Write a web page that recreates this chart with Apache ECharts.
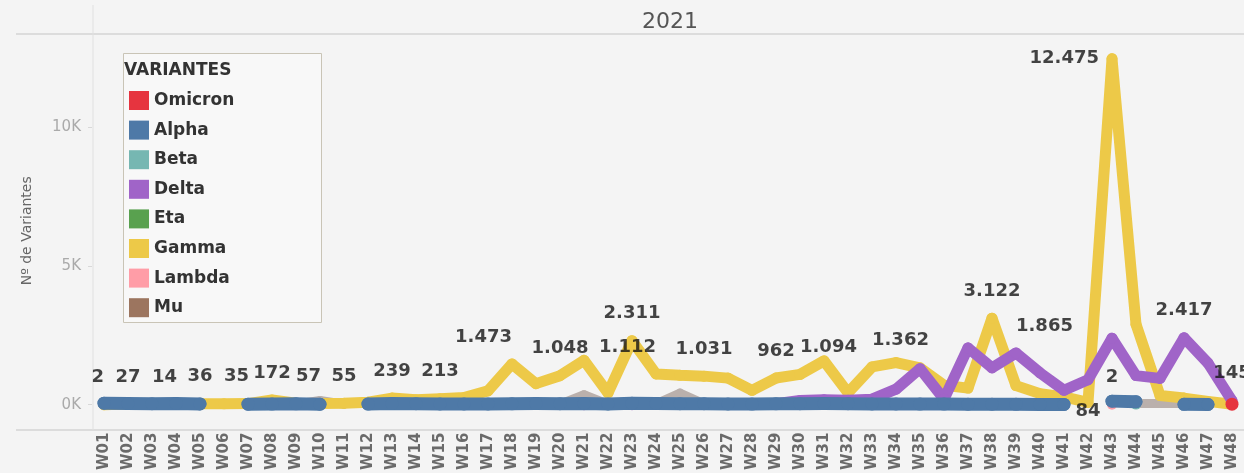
<!DOCTYPE html>
<html><head><meta charset="utf-8">
<script src="https://cdn.jsdelivr.net/npm/echarts@6/dist/echarts.min.js"></script>
<style>html,body{margin:0;padding:0;background:#f4f4f4}#c{width:1244px;height:473px}</style>
</head><body><div id="c"></div><script>
// ---- data ----
const weeks = ['W01','W02','W03','W04','W05','W06','W07','W08','W09','W10','W11','W12','W13','W14','W15','W16','W17','W18','W19','W20','W21','W22','W23','W24','W25','W26','W27','W28','W29','W30','W31','W32','W33','W34','W35','W36','W37','W38','W39','W40','W41','W42','W43','W44','W45','W46','W47','W48'];
const yTicks = [0, 5000, 10000];
const variantNames = ['Omicron','Alpha','Beta','Delta','Eta','Gamma','Lambda','Mu'];
const gamma   = [2,27,14,20,36,35,40,172,57,45,55,90,239,180,213,260,500,1473,760,1048,1600,420,2311,1112,1060,1031,960,520,962,1094,1580,430,1362,1520,1330,700,600,3122,690,400,280,84,12475,2900,330,240,120,20];
const delta   = [null,null,null,null,null,null,null,null,null,null,null,null,null,null,null,null,null,null,null,null,2,null,3,null,null,null,null,10,40,150,180,160,200,560,1300,200,2050,1330,1865,1150,520,900,2400,1050,950,2417,1500,145];
const alpha   = [55,40,35,48,30,null,20,25,33,18,null,22,40,35,28,30,26,34,41,38,45,30,52,44,38,35,29,24,31,36,42,39,30,27,25,22,18,20,15,12,10,null,130,110,null,14,9,null];
const beta    = [null,null,null,null,null,null,null,null,null,null,null,null,1,null,null,null,null,null,null,null,null,null,null,null,null,null,null,null,null,null,null,null,null,null,2,null,null,null,null,null,null,null,null,4,null,null,null,null];
const eta     = [null,null,null,null,null,null,null,null,null,null,null,null,null,null,1,null,null,null,null,null,null,null,null,null,null,null,null,null,null,null,null,null,null,null,null,null,null,null,null,null,null,null,null,null,null,null,null,null];
const lambda  = [null,null,null,null,null,null,null,null,null,null,null,null,null,null,null,null,null,1,null,null,null,null,null,null,null,null,null,null,null,null,null,null,null,null,null,null,null,null,null,null,null,null,2,null,null,null,null,null];
const mu      = [null,null,null,null,null,null,null,null,null,null,null,null,null,null,null,null,null,null,null,null,null,null,null,null,null,null,2,null,null,null,null,null,null,null,null,null,null,3,null,null,null,null,null,null,null,null,null,null];
const omicron = [null,null,null,null,null,null,null,null,null,null,null,null,null,null,null,null,null,null,null,null,null,null,null,null,null,null,null,null,null,null,null,null,null,null,null,null,null,null,null,null,null,null,null,null,null,null,null,20];
const otras   = [null,null,null,null,null,null,null,null,20,150,20,null,null,null,null,null,null,null,null,20,360,20,null,30,420,30,null,null,null,null,null,null,null,null,null,null,null,null,null,null,null,null,null,40,40,40,null,null];
// labelled points: [variant, week]
const labelPoints = [
  ['Gamma','W01'],['Gamma','W02'],['Gamma','W03'],['Gamma','W05'],['Gamma','W06'],['Gamma','W08'],
  ['Gamma','W09'],['Gamma','W11'],['Gamma','W13'],['Gamma','W15'],['Gamma','W18'],['Gamma','W20'],
  ['Gamma','W23'],['Gamma','W24'],['Gamma','W26'],['Gamma','W29'],['Gamma','W30'],['Gamma','W33'],
  ['Gamma','W38'],['Delta','W39'],['Gamma','W42'],['Gamma','W43'],['Lambda','W43'],['Delta','W46'],['Delta','W48']
];

// ---- chart ----
const FONT = 'DejaVu Sans';
const colors = {Omicron:'#e6343f', Alpha:'#4e79a7', Beta:'#76b7b2', Delta:'#a064c8', Eta:'#59a14f', Gamma:'#edc948', Lambda:'#ff9da7', Mu:'#9c755f', Otras:'#bab0ac'};
const seriesData = {Omicron:omicron, Alpha:alpha, Beta:beta, Delta:delta, Eta:eta, Gamma:gamma, Lambda:lambda, Mu:mu, Otras:otras};
const widths = {Alpha:13, Gamma:11, Delta:11, Otras:9};
const zOrder = {Otras:1, Mu:2, Eta:2, Beta:2, Lambda:2, Gamma:3, Delta:4, Alpha:5, Omicron:6};
const drawOrder = ['Otras','Mu','Eta','Beta','Lambda','Gamma','Delta','Alpha','Omicron'];

function fmt(v){ return String(v).replace(/\B(?=(\d{3})+(?!\d))/g, '.'); }

const lineSeries = drawOrder.map(name => {
  const w = widths[name] || 10;
  return {
    name, type:'line', data: seriesData[name], z: zOrder[name],
    connectNulls:false, symbol:'circle', showSymbol:true, symbolSize: name==='Omicron'?13:w,
    lineStyle:{width:w, color:colors[name], cap:'round', join:'round'},
    itemStyle:{color:colors[name]}, emphasis:{disabled:true}, animation:false
  };
});

const alignRight = ['Gamma:W01','Gamma:W18','Gamma:W24'];
const alignLeft = ['Gamma:W03','Gamma:W06','Gamma:W09','Gamma:W30','Gamma:W33','Delta:W39'];
const labelData = labelPoints.map(([s, wk]) => {
  const v = seriesData[s][weeks.indexOf(wk)];
  const key = s + ':' + wk;
  let label = {position:'top', distance:13};
  if (alignRight.includes(key)) label.align = 'right';
  if (alignLeft.includes(key)) label.align = 'left';
  if (key === 'Gamma:W43') label = {position:'left', distance:8};
  if (key === 'Gamma:W42') label = {position:'bottom', distance:-5};
  return {value:[wk, v], label};
});

const option = {
  backgroundColor:'#f4f4f4',
  animation:false,
  textStyle:{fontFamily:FONT},
  grid:{left:92, top:34, width:1157, height:396, containLabel:false},
  xAxis:{
    type:'category', data:weeks, boundaryGap:true,
    axisLine:{show:false}, axisTick:{show:false},
    axisLabel:{rotate:90, interval:0, margin:5, fontSize:15, fontWeight:'bold', color:'#6a6a6a', fontFamily:FONT},
    splitLine:{show:false}
  },
  yAxis:{
    type:'value', min:-824, max:13369,
    name:'Nº de Variantes', nameLocation:'middle', nameGap:58, nameRotate:90,
    nameTextStyle:{fontSize:14, color:'#666', fontFamily:FONT},
    axisLine:{show:false},
    axisTick:{show:true, customValues:yTicks, length:4, lineStyle:{color:'#d8d8d8'}},
    axisLabel:{customValues:yTicks, margin:11, fontSize:15, color:'#aaa', fontFamily:FONT,
      formatter:v => (v/1000) + 'K'},
    splitLine:{show:false}
  },
  legend:{
    data:variantNames, orient:'vertical', left:129, top:91, padding:0,
    itemWidth:20, itemHeight:19, itemGap:10.6, icon:'rect', selectedMode:false,
    textStyle:{fontSize:17, fontWeight:'bold', color:'#333', fontFamily:FONT}
  },
  graphic:[
    {type:'rect', z:-1, shape:{x:123.5, y:53.5, width:198, height:269}, style:{fill:'rgba(255,255,255,0.35)', stroke:'#c9c4b6', lineWidth:1}},
    {type:'text', z:10, x:124, y:71, style:{text:'VARIANTES', font:'bold 17px "DejaVu Sans"', fill:'#333', verticalAlign:'middle'}},
    {type:'text', z:10, x:670, y:22, style:{text:'2021', font:'22px "DejaVu Sans"', fill:'#555', align:'center', verticalAlign:'middle'}},
    {type:'line', z:-1, shape:{x1:16, y1:34, x2:1244, y2:34}, style:{stroke:'#dcdcdc', lineWidth:2}},
    {type:'line', z:-1, shape:{x1:16, y1:430, x2:1244, y2:430}, style:{stroke:'#dcdcdc', lineWidth:2}},
    {type:'line', z:-1, shape:{x1:93, y1:5, x2:93, y2:430}, style:{stroke:'#e0e0e0', lineWidth:1}}
  ],
  series: lineSeries.concat([{
    name:'labels', type:'scatter', z:20, silent:true, data:labelData,
    symbolSize:10, itemStyle:{color:'rgba(0,0,0,0)'},
    label:{show:true, formatter:p => fmt(p.value[1]), fontSize:18, fontWeight:'bold', color:'#151515', fontFamily:FONT},
    emphasis:{disabled:true}, animation:false
  }])
};
const chart = echarts.init(document.getElementById('c'), null, {renderer:'canvas'});
chart.setOption(option);
</script></body></html>
